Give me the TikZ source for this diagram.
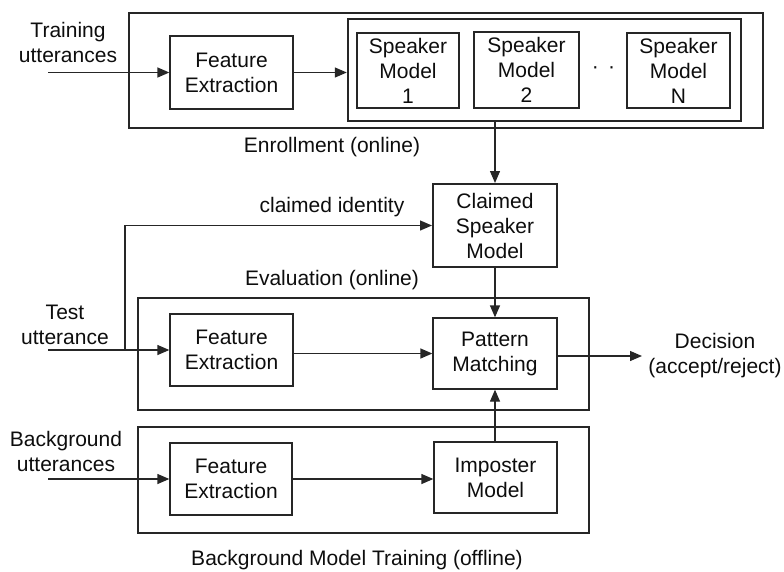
\documentclass[tikz,border=0pt]{standalone}
\usepackage{fontspec}
\setmainfont{Liberation Sans}
\usetikzlibrary{arrows.meta}
\begin{document}
\begin{tikzpicture}[x=1pt,y=-1pt,
  every node/.style={font=\fontsize{21pt}{25pt}\selectfont, text=black!95},
  blk/.style={draw=black!85, line width=1.3pt, inner sep=0pt, align=center},
  thickblk/.style={draw=black!85, line width=2.4pt, inner sep=0pt, align=center},
  frame/.style={draw=black!85, line width=2.8pt, inner sep=0pt},
  lbl/.style={align=center, inner sep=0pt},
  arr/.style={draw=black!85, line width=1.3pt, -{Triangle[length=12pt,width=10pt]}},
  ln/.style={draw=black!85, line width=1.3pt}
]
\useasboundingbox (0,0) rectangle (784,571);

% enrollment
\node[frame, minimum width=634pt, minimum height=115pt] (enr) at (446,70.5) {};
\node[blk, minimum width=123pt, minimum height=73pt] (fe1) at (231.5,72.5) {Feature\\Extraction};
\node[thickblk, minimum width=393pt, minimum height=102pt] (grp) at (544.5,70) {};
\node[blk, minimum width=102pt, minimum height=75pt] (sm1) at (408,70.5) {Speaker\\Model\\1};
\node[blk, minimum width=105pt, minimum height=76pt] (sm2) at (526.5,70) {Speaker\\Model\\2};
\node[lbl] (dots) at (603.5,70) {·\hspace{9.2pt}·};
\node[blk, minimum width=103pt, minimum height=75pt] (smN) at (678.5,70.5) {Speaker\\Model\\N};
\node[lbl] (tu) at (68,42) {Training\\utterances};
\node[lbl] (enrl) at (332,147) {Enrollment (online)};
\coordinate (tin) at (48,72.5);
\draw[arr] (tin) -- (fe1.west);
\draw[arr] (fe1.east) -- (fe1.east -| grp.west);

% claimed speaker
\node[thickblk, line width=2pt, minimum width=124pt, minimum height=83pt] (claimed) at (495,225.5) {Claimed\\Speaker\\Model};
\draw[arr] (claimed.north |- grp.south) -- (claimed.north);
\node[lbl] (cil) at (332,207) {claimed identity};

% evaluation
\node[frame, minimum width=451pt, minimum height=112pt] (eval) at (363.5,354) {};
\node[lbl] (evl) at (332,280) {Evaluation (online)};
\node[blk, minimum width=123pt, minimum height=72pt] (fe2) at (231.5,350) {Feature\\Extraction};
\node[blk, minimum width=124pt, minimum height=71pt] (pm) at (495,353.5) {Pattern\\Matching};
\node[lbl] (testl) at (65,325) {Test\\utterance};
\coordinate (tin2) at (48,350);
\coordinate (ci) at (125,350);
\draw[arr] (tin2) -- (fe2.west);
\draw[arr] (ci) |- (claimed.west);
\draw[arr] (fe2.east |- pm.west) -- (pm.west);
\draw[arr] (claimed.south) -- (pm.north);
\coordinate (decend) at (642,356);
\draw[arr] (pm.east |- decend) -- (decend);
\node[lbl] (dec) at (715,356) {Decision\\(accept/reject)};

% background
\node[frame, minimum width=451pt, minimum height=106pt] (bg) at (363.5,480) {};
\node[blk, minimum width=122pt, minimum height=72pt] (fe3) at (231,479) {Feature\\Extraction};
\node[blk, minimum width=123pt, minimum height=71pt] (imp) at (495.5,477.5) {Imposter\\Model};
\node[lbl] (bgu) at (66,451) {Background\\utterances};
\coordinate (tin3) at (48,479);
\draw[arr] (tin3) -- (fe3.west);
\draw[arr] (fe3.east) -- (fe3.east -| imp.west);
\draw[arr] (imp.north -| pm.south) -- (pm.south);
\node[lbl] (bgl) at (357,560) {Background Model Training (offline)};
\end{tikzpicture}
\end{document}
